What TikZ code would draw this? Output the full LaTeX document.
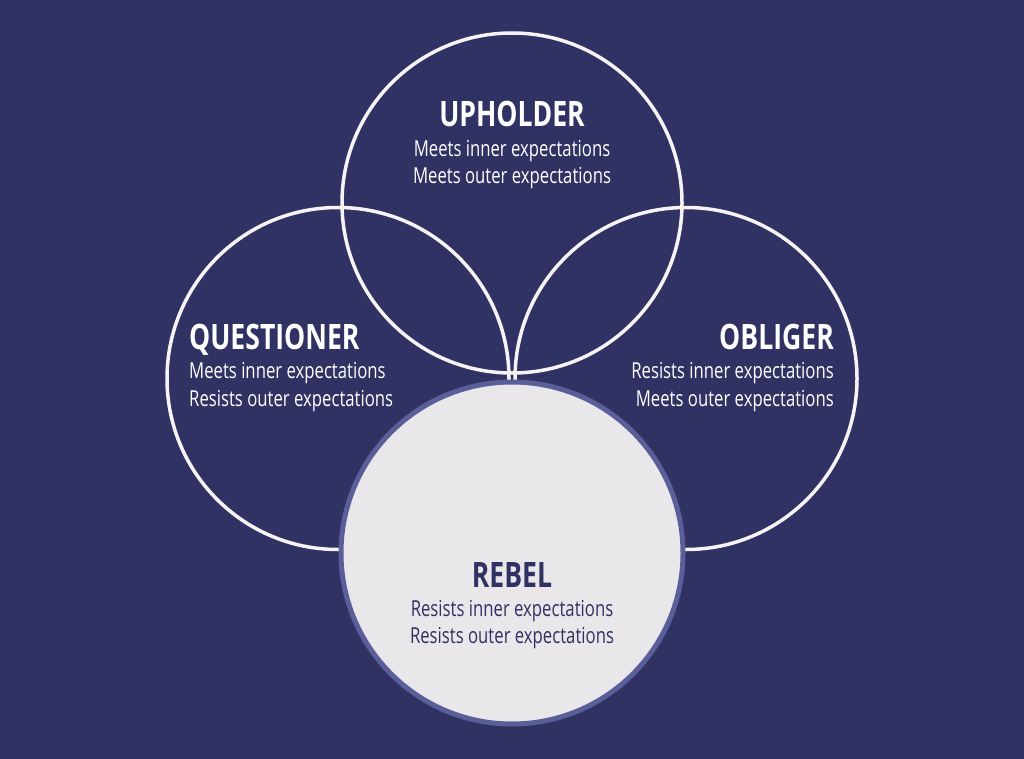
\documentclass[tikz,border=0pt]{standalone}
\usepackage{fontspec}
\setmainfont{Open Sans}[FakeStretch=0.76]
\definecolor{bg}{HTML}{2F3262}
\definecolor{rebfill}{HTML}{EAE7EA}
\definecolor{rebline}{HTML}{5B5F99}
\definecolor{ring}{HTML}{F7F3F5}
\tikzset{
  ringc/.style={draw=ring, line width=3.5pt},
  title/.style={anchor=base, inner sep=0pt, font=\fontsize{35}{35}\selectfont\bfseries},
  body/.style={anchor=base, inner sep=0pt, font=\fontsize{22}{22}\selectfont},
}
\begin{document}
\begin{tikzpicture}[x=1pt,y=-1pt]
\fill[bg] (0,0) rectangle (1024,759);
\useasboundingbox (0,0) rectangle (1024,759);
\draw[ringc] (512,203) circle[radius=170];
\draw[ringc] (338,378.5) circle[radius=171];
\draw[ringc] (686,378.5) circle[radius=171];
\draw[line width=5pt, draw=rebline, fill=rebfill] (512,553) circle[radius=171];
% upholder
\node[title, text=white] (uph) at (512,127) {UPHOLDER};
\node[body, text=white] (uph1) at (512,157) {Meets inner expectations};
\node[body, text=white] (uph2) at (512,184) {Meets outer expectations};
% questioner
\node[title, text=white, anchor=base west] (que) at (189,349) {QUESTIONER};
\node[body, text=white, anchor=base west] (que1) at (189,378) {Meets inner expectations};
\node[body, text=white, anchor=base west] (que2) at (189,406) {Resists outer expectations};
% obliger
\node[title, text=white, anchor=base east] (obl) at (834,349) {OBLIGER};
\node[body, text=white, anchor=base east] (obl1) at (834,378) {Resists inner expectations};
\node[body, text=white, anchor=base east] (obl2) at (834,406) {Meets outer expectations};
% rebel
\node[title, text=bg] (reb) at (512,587) {REBEL};
\node[body, text=bg] (reb1) at (512,616) {Resists inner expectations};
\node[body, text=bg] (reb2) at (512,643) {Resists outer expectations};
\end{tikzpicture}
\end{document}
